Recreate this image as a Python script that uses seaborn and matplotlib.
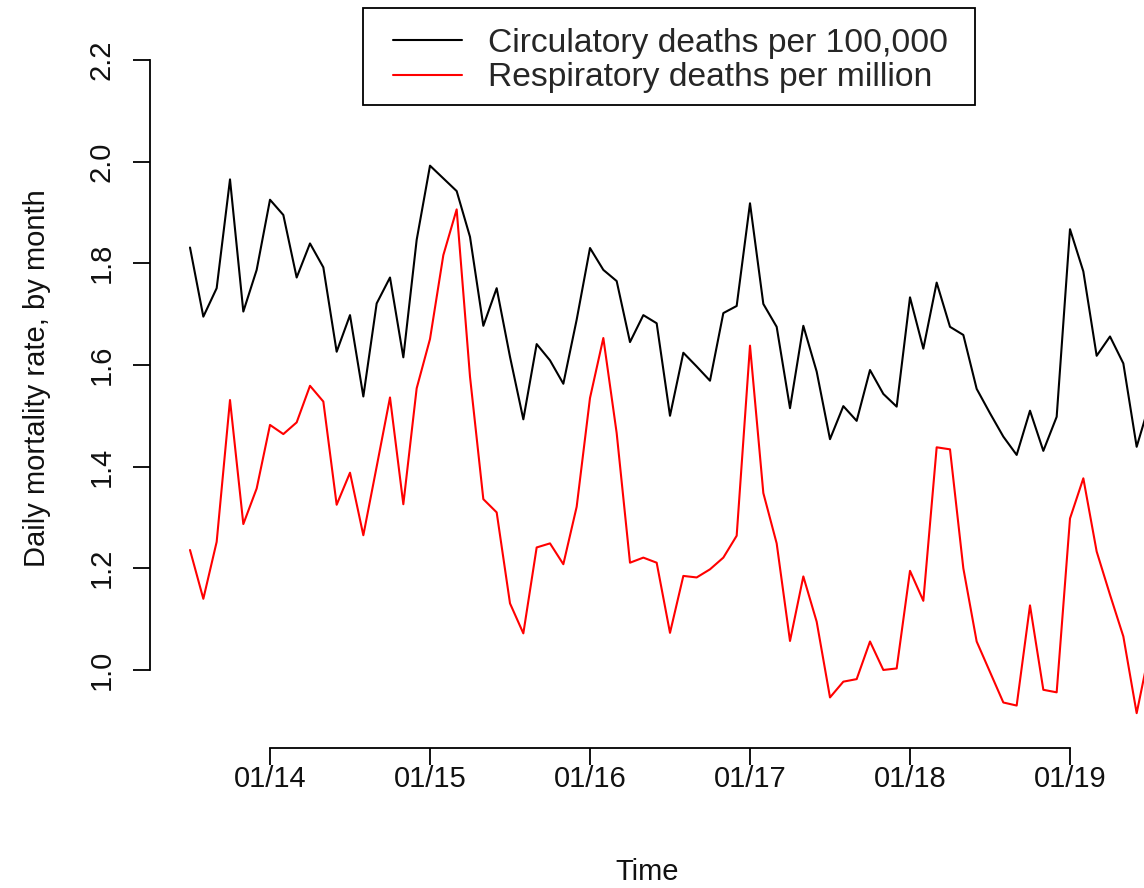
import numpy as np
import pandas as pd
import matplotlib
matplotlib.use("Agg")
import matplotlib.pyplot as plt
from matplotlib.lines import Line2D
from matplotlib.patches import Rectangle
import seaborn as sns

# Monthly series, July 2013 .. July 2019
start_year = 2013
start_month = 7
circulatory = [
    1.831, 1.695, 1.751, 1.965, 1.705, 1.787,
    1.925, 1.895, 1.772, 1.839, 1.792, 1.626, 1.698, 1.538, 1.721, 1.772, 1.615, 1.846,
    1.992, 1.967, 1.942, 1.852, 1.677, 1.751, 1.616, 1.493, 1.641, 1.609, 1.563, 1.689,
    1.830, 1.787, 1.765, 1.645, 1.698, 1.682, 1.500, 1.624, 1.597, 1.569, 1.702, 1.716,
    1.918, 1.720, 1.675, 1.515, 1.677, 1.587, 1.454, 1.519, 1.490, 1.590, 1.543, 1.518,
    1.733, 1.632, 1.762, 1.675, 1.659, 1.553, 1.505, 1.459, 1.423, 1.510, 1.431, 1.498,
    1.867, 1.784, 1.618, 1.656, 1.603, 1.439, 1.527,
]
respiratory = [
    1.236, 1.140, 1.252, 1.531, 1.287, 1.357,
    1.482, 1.464, 1.487, 1.559, 1.528, 1.325, 1.388, 1.265, 1.400, 1.536, 1.326, 1.554,
    1.651, 1.816, 1.906, 1.577, 1.336, 1.310, 1.131, 1.072, 1.241, 1.249, 1.208, 1.321,
    1.535, 1.653, 1.466, 1.211, 1.221, 1.211, 1.073, 1.185, 1.182, 1.198, 1.221, 1.264,
    1.638, 1.348, 1.249, 1.057, 1.184, 1.095, 0.946, 0.977, 0.982, 1.056, 1.000, 1.003,
    1.195, 1.136, 1.438, 1.434, 1.200, 1.056, 0.996, 0.936, 0.930, 1.127, 0.961, 0.956,
    1.298, 1.377, 1.233, 1.148, 1.066, 0.915, 1.043,
]
series_names = ["Circulatory deaths per 100,000", "Respiratory deaths per million"]
series_colors = ["black", "red"]
x_tick_values = [2014, 2015, 2016, 2017, 2018, 2019]
x_tick_labels = ["01/14", "01/15", "01/16", "01/17", "01/18", "01/19"]
y_tick_values = [1.0, 1.2, 1.4, 1.6, 1.8, 2.0, 2.2]

n = len(circulatory)
time = [start_year + (start_month - 1 + i) / 12 for i in range(n)]
df = pd.concat([
    pd.DataFrame({"Time": time, "value": circulatory, "series": series_names[0]}),
    pd.DataFrame({"Time": time, "value": respiratory, "series": series_names[1]}),
])

sns.set_style("white")
plt.rcParams["font.family"] = ["Liberation Sans", "DejaVu Sans"]

W, H = 1144, 888
fig = plt.figure(figsize=(W / 100, H / 100), dpi=100)
ax = fig.add_axes([150 / W, 1 - 748 / H, (W - 150) / W, (748 - 34) / H])

sns.lineplot(data=df, x="Time", y="value", hue="series",
             palette=dict(zip(series_names, series_colors)),
             linewidth=1.5, ax=ax, legend=False)

ax.set_xlim(2013.25, 2019.4625)
ax.set_ylim(0.8465, 2.251)
for s in ["top", "right"]:
    ax.spines[s].set_visible(False)
ax.spines["left"].set_bounds(1.0, 2.2)
ax.spines["bottom"].set_bounds(2014, 2019)
for s in ["left", "bottom"]:
    ax.spines[s].set_color("black")
    ax.spines[s].set_linewidth(1.3)

ax.set_xticks(x_tick_values)
ax.set_xticklabels(x_tick_labels)
ax.set_yticks(y_tick_values)
ax.set_yticklabels([f"{v:.1f}" for v in y_tick_values], rotation=90, va="center")
ax.tick_params(axis="both", direction="out", length=12, width=1.3, color="black",
               labelsize=21, labelcolor="#111111", left=True, bottom=True)
ax.tick_params(axis="x", pad=0)
ax.tick_params(axis="y", pad=13)
ax.set_xlabel("Time", fontsize=21, color="#111111", labelpad=47)
ax.set_ylabel("Daily mortality rate, by month", fontsize=21, color="#111111", labelpad=26)
ax.yaxis.label.set_y(0.518)

# legend box (R-style, square corners)
fig.add_artist(Rectangle((363 / W, 1 - 105 / H), (975 - 363) / W, (105 - 8) / H,
                         transform=fig.transFigure, facecolor="white",
                         edgecolor="black", linewidth=1.3, zorder=5))
handles = [Line2D([0], [0], color=c, lw=1.5) for c in series_colors]
leg = fig.legend(handles, series_names, loc="upper left",
                 bbox_to_anchor=(393 / W, 1 - 28 / H), bbox_transform=fig.transFigure,
                 fontsize=24.2, frameon=False, borderaxespad=0, borderpad=0,
                 handlelength=2.05, handletextpad=0.77, labelspacing=0.1)
leg.set_zorder(6)

fig.savefig("out.png", dpi=100)
